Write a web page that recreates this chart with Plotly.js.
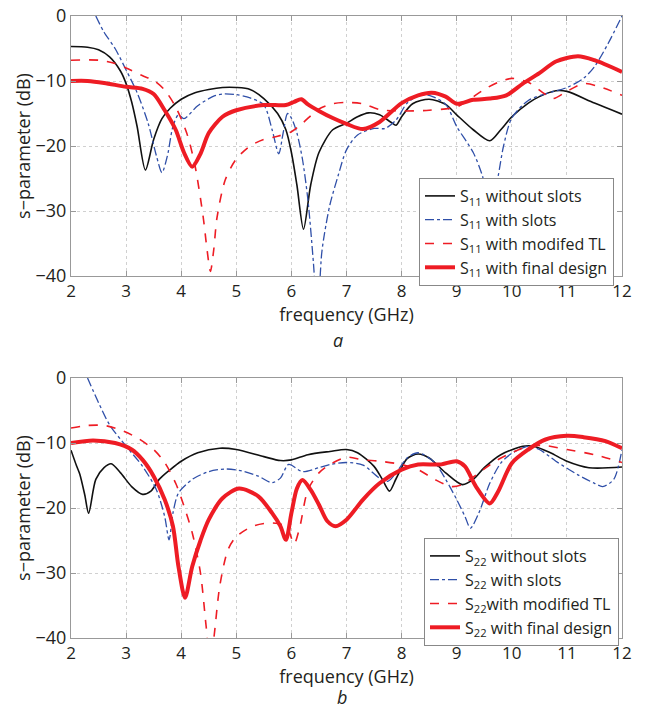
<!DOCTYPE html>
<html>
<head>
<meta charset="utf-8">
<script src="https://cdn.plot.ly/plotly-3.0.1.min.js"></script>
<style>html,body{margin:0;padding:0;background:#fff;}#chart{width:646px;height:711px;}</style>
</head>
<body>
<div id="chart"></div>
<script>
// ---- Panel a: S11 ----
var fA_noSlots = [2.0,2.3,2.5,2.7,2.9,3.0,3.1,3.2,3.35,3.5,3.65,3.8,4.0,4.25,4.5,4.75,5.0,5.25,5.5,5.75,5.9,6.0,6.1,6.22,6.35,6.5,6.75,7.0,7.2,7.4,7.6,7.8,7.9,8.0,8.2,8.5,8.8,9.0,9.3,9.6,9.8,10.0,10.3,10.5,10.8,11.0,11.5,12.0];
var s11_noSlots = [-4.7,-4.8,-5.2,-6.3,-8.5,-10.4,-13.2,-17,-23.7,-19,-15.8,-14.2,-12.8,-11.8,-11.3,-11.0,-11.0,-11.3,-12.7,-15,-17.5,-21,-26,-32.8,-26,-21,-17.5,-16.5,-15.5,-14.9,-15.2,-16.3,-16.8,-15.5,-13.5,-12.8,-13.6,-15.2,-17.5,-19.2,-17.5,-15.5,-13.4,-12.4,-11.5,-11.6,-13.4,-15.1];

var fA_slots = [2.45,2.6,2.8,3.0,3.2,3.4,3.55,3.65,3.75,3.85,3.95,4.05,4.3,4.6,4.75,5.0,5.25,5.5,5.65,5.77,5.85,5.93,6.0,6.1,6.2,6.3,6.4,6.47,6.55,6.6,6.7,6.85,7.0,7.2,7.5,7.7,7.9,8.1,8.3,8.5,8.8,9.0,9.3,9.47,9.6,9.75,9.85,10.0,10.3,10.6,11.0,11.3,11.5,11.75,12.0];
var s11_slots = [0,-2.5,-5,-8.3,-11.8,-16.5,-21.5,-24.1,-21.5,-17,-15.2,-15.8,-13.8,-12.3,-12.0,-12.1,-12.6,-13.7,-17.5,-21.2,-18,-15,-15.7,-18,-22,-28.3,-38,-46,-36.5,-33.5,-29,-24.5,-20.6,-18.3,-17.3,-17.3,-16,-13.4,-12.3,-12.2,-13.6,-17,-21,-24.7,-30,-24.7,-20,-15.7,-13,-12,-11,-9.6,-7.8,-4.2,0];

var fA_modTL = [2.0,2.5,2.8,3.0,3.3,3.5,3.7,3.9,4.1,4.25,4.4,4.47,4.53,4.59,4.65,4.8,5.0,5.25,5.5,5.75,6.0,6.2,6.5,6.75,7.0,7.3,7.6,8.0,8.5,9.0,9.2,9.5,9.75,10.0,10.3,10.6,10.75,11.0,11.3,11.6,12.0];
var s11_modTL = [-6.8,-6.8,-7.3,-8,-9.2,-9.9,-11.4,-14,-18,-23,-31,-36,-39.3,-36,-31,-25.2,-22,-20,-19,-18.5,-17.8,-16.5,-14.3,-13.5,-13.3,-13.5,-14.4,-14.6,-14.5,-14,-13,-11.3,-10.2,-9.6,-10.2,-12,-12.7,-11.6,-10.4,-10.9,-12.2];

var fA_final = [2.0,2.3,2.6,3.0,3.3,3.5,3.7,3.9,4.05,4.2,4.35,4.5,4.75,5.0,5.5,5.9,6.05,6.18,6.3,6.5,6.75,7.0,7.3,7.6,8.0,8.3,8.55,8.8,9.0,9.3,9.6,9.9,10.2,10.5,10.8,11.2,11.5,12.0];
var s11_final = [-10,-10,-10.3,-10.9,-11.2,-12,-14.5,-17.5,-21,-23.2,-21.2,-18,-15.5,-14.5,-13.7,-13.7,-13.2,-12.8,-13.6,-14.6,-15.7,-16.6,-17.4,-16.3,-13.4,-12.2,-11.8,-12.4,-13.5,-12.9,-12.7,-12.2,-10.4,-8.8,-7,-6.2,-6.8,-8.6];

// ---- Panel b: S22 ----
var fB_noSlots = [2.0,2.1,2.16,2.25,2.32,2.45,2.6,2.73,2.9,3.1,3.3,3.45,3.6,3.8,4.0,4.3,4.7,5.0,5.5,5.8,6.0,6.3,6.7,7.0,7.2,7.5,7.65,7.78,7.9,8.1,8.3,8.5,8.8,9.1,9.3,9.5,9.8,10.2,10.4,10.7,11.0,11.4,12.0];
var s22_noSlots = [-11.1,-13.5,-14.8,-18,-20.8,-15.6,-13.8,-13.2,-14.6,-16.7,-17.9,-17.4,-15.6,-14.1,-12.8,-11.5,-10.8,-11,-12.1,-12.7,-12.6,-11.8,-11.3,-11,-11.5,-13.6,-15.6,-17.4,-15.5,-12.4,-11.7,-12.3,-14.6,-16.4,-15.6,-13.8,-11.8,-10.5,-10.5,-11.5,-12.8,-13.8,-13.7];

var fB_slots = [2.3,2.5,2.7,3.0,3.3,3.55,3.7,3.78,3.85,3.95,4.2,4.5,4.8,5.1,5.4,5.65,5.8,5.95,6.2,6.5,6.7,7.0,7.3,7.6,7.75,7.9,8.1,8.3,8.6,8.8,9.0,9.15,9.25,9.4,9.6,9.8,10.0,10.3,10.5,10.8,11.2,11.5,11.65,11.85,12.0];
var s22_slots = [0,-3.8,-7.2,-10.5,-13.6,-17.2,-21.3,-24.9,-20.8,-17.7,-15.6,-14.4,-14,-14.3,-15.1,-16.1,-15.4,-13.3,-14.4,-13.8,-13.3,-13,-13.4,-15.4,-15.9,-14.6,-12.3,-11.5,-13,-15.6,-18.7,-21.3,-23.1,-20.8,-16.2,-13.1,-11.6,-10.5,-11,-12.8,-14.9,-16.2,-16.7,-15.6,-11];

var fB_modTL = [2.0,2.3,2.6,2.9,3.2,3.5,3.7,3.9,4.05,4.2,4.35,4.45,4.53,4.6,4.7,4.85,5.0,5.3,5.6,5.85,5.95,6.05,6.15,6.3,6.5,6.7,7.0,7.3,7.6,8.0,8.3,8.6,8.9,9.1,9.4,9.7,10.0,10.3,10.6,11.0,11.5,12.0];
var s22_modTL = [-7.7,-7.3,-7.3,-8,-9.2,-11,-13,-16.2,-19.7,-23.8,-30,-38,-44,-39.5,-32,-26.4,-24.4,-22.8,-22.3,-22.6,-23.5,-25.5,-23,-17.2,-14.6,-13.3,-12.2,-12.6,-12.8,-13.3,-14.1,-15.6,-16.7,-16.4,-14.6,-12.8,-11.5,-10.5,-10.4,-11,-11.8,-13];

var fB_final = [2.0,2.4,2.8,3.1,3.3,3.5,3.7,3.85,3.95,4.07,4.2,4.35,4.5,4.75,5.05,5.4,5.65,5.8,5.9,6.0,6.1,6.2,6.35,6.5,6.65,6.8,7.0,7.3,7.6,8.0,8.3,8.7,9.0,9.15,9.35,9.6,9.75,10.0,10.3,10.6,11.0,11.3,11.7,12.0];
var s22_final = [-10,-9.6,-10,-11,-12.6,-15.1,-18.7,-22.8,-29,-33.8,-29,-25,-21.8,-18.5,-17,-18.2,-20.8,-22.8,-24.9,-20.8,-17,-15.7,-17.2,-19.5,-22,-22.8,-21.8,-18.7,-16.2,-14.1,-13.3,-13.3,-12.8,-13.6,-16.7,-19.3,-17.5,-13.1,-11,-9.5,-8.9,-9.1,-9.7,-10.8];

var xTicks = [2,3,4,5,6,7,8,9,10,11,12];
var yTicks = [0,-10,-20,-30,-40];
var namesA = ['S<sub>11</sub> without slots','S<sub>11</sub> with slots','S<sub>11</sub> with modifed TL','S<sub>11</sub> with final design'];
var namesB = ['S<sub>22</sub> without slots','S<sub>22</sub> with slots','S<sub>22</sub>with modified TL','S<sub>22</sub> with final design'];
var xTitle = 'frequency (GHz)';
var yTitle = 's\u2212parameter (dB)';

var styles = [
  {color:'#111111', width:1.6, dash:'solid'},
  {color:'#2f4fa8', width:1.3, dash:'dashdot'},
  {color:'#ee1c24', width:1.6, dash:'dash'},
  {color:'#ee1c24', width:4, dash:'solid'}
];

function tr(x, y, name, st, xa, ya, leg){
  return {x:x, y:y, name:name, type:'scatter', mode:'lines', xaxis:xa, yaxis:ya, legend:leg,
    line:{color:st.color, width:st.width, dash:st.dash, shape:'spline', smoothing:0.8}};
}

var data = [
  tr(fA_noSlots, s11_noSlots, namesA[0], styles[0], 'x','y','legend'),
  tr(fA_slots, s11_slots, namesA[1], styles[1], 'x','y','legend'),
  tr(fA_modTL, s11_modTL, namesA[2], styles[2], 'x','y','legend'),
  tr(fA_final, s11_final, namesA[3], styles[3], 'x','y','legend'),
  tr(fB_noSlots, s22_noSlots, namesB[0], styles[0], 'x2','y2','legend2'),
  tr(fB_slots, s22_slots, namesB[1], styles[1], 'x2','y2','legend2'),
  tr(fB_modTL, s22_modTL, namesB[2], styles[2], 'x2','y2','legend2'),
  tr(fB_final, s22_final, namesB[3], styles[3], 'x2','y2','legend2')
];

var W = 646, H = 711;
var font = {family:'"Open Sans", "Noto Sans", sans-serif', size:17, color:'#231f20'};

function xax(anchor){
  return {anchor:anchor, domain:[71/W, 622/W], range:[2,12], tickvals:xTicks, ticks:'inside', ticklen:5,
    tickcolor:'#999', showline:true, linecolor:'#999', linewidth:1, mirror:'ticks', showgrid:true,
    gridcolor:'#d0d0d0', griddash:'dot', gridwidth:1, zeroline:false, tickfont:{size:17},
    title:{text:xTitle, font:{size:18}, standoff:0}, automargin:false};
}
function yax(anchor, y0, y1){
  return {anchor:anchor, domain:[(H-y1)/H, (H-y0)/H], range:[-40,0], tickvals:yTicks, ticks:'inside', ticklen:5,
    tickcolor:'#999', showline:true, linecolor:'#999', linewidth:1, mirror:'ticks', showgrid:true,
    gridcolor:'#d0d0d0', griddash:'dot', gridwidth:1, zeroline:false, tickfont:{size:18},
    title:{text:yTitle, font:{size:18}, standoff:0}, automargin:false};
}

var layout = {
  width:W, height:H, margin:{l:0,r:0,t:0,b:0}, paper_bgcolor:'#fff', plot_bgcolor:'#fff',
  font:font, showlegend:true,
  xaxis:xax('y'), yaxis:yax('x', 16, 276),
  xaxis2:xax('y2'), yaxis2:yax('x2', 378, 638),
  legend:{x:614/W, xanchor:'right', y:(H-178)/H, yanchor:'top', bgcolor:'#fff', bordercolor:'#888', borderwidth:1,
    font:{size:16}, tracegroupgap:0, itemwidth:30},
  legend2:{x:619/W, xanchor:'right', y:(H-538)/H, yanchor:'top', bgcolor:'#fff', bordercolor:'#888', borderwidth:1,
    font:{size:16}, tracegroupgap:0, itemwidth:30},
  annotations:[
    {text:'<i>a</i>', x:338/W, y:(H-340)/H, xref:'paper', yref:'paper', xanchor:'center', yanchor:'middle', showarrow:false, font:{size:18}},
    {text:'<i>b</i>', x:342/W, y:0, xref:'paper', yref:'paper', xanchor:'center', yanchor:'bottom', showarrow:false, font:{size:18}}
  ]
};

Plotly.newPlot('chart', data, layout, {displayModeBar:false, staticPlot:true});
</script>
</body>
</html>
